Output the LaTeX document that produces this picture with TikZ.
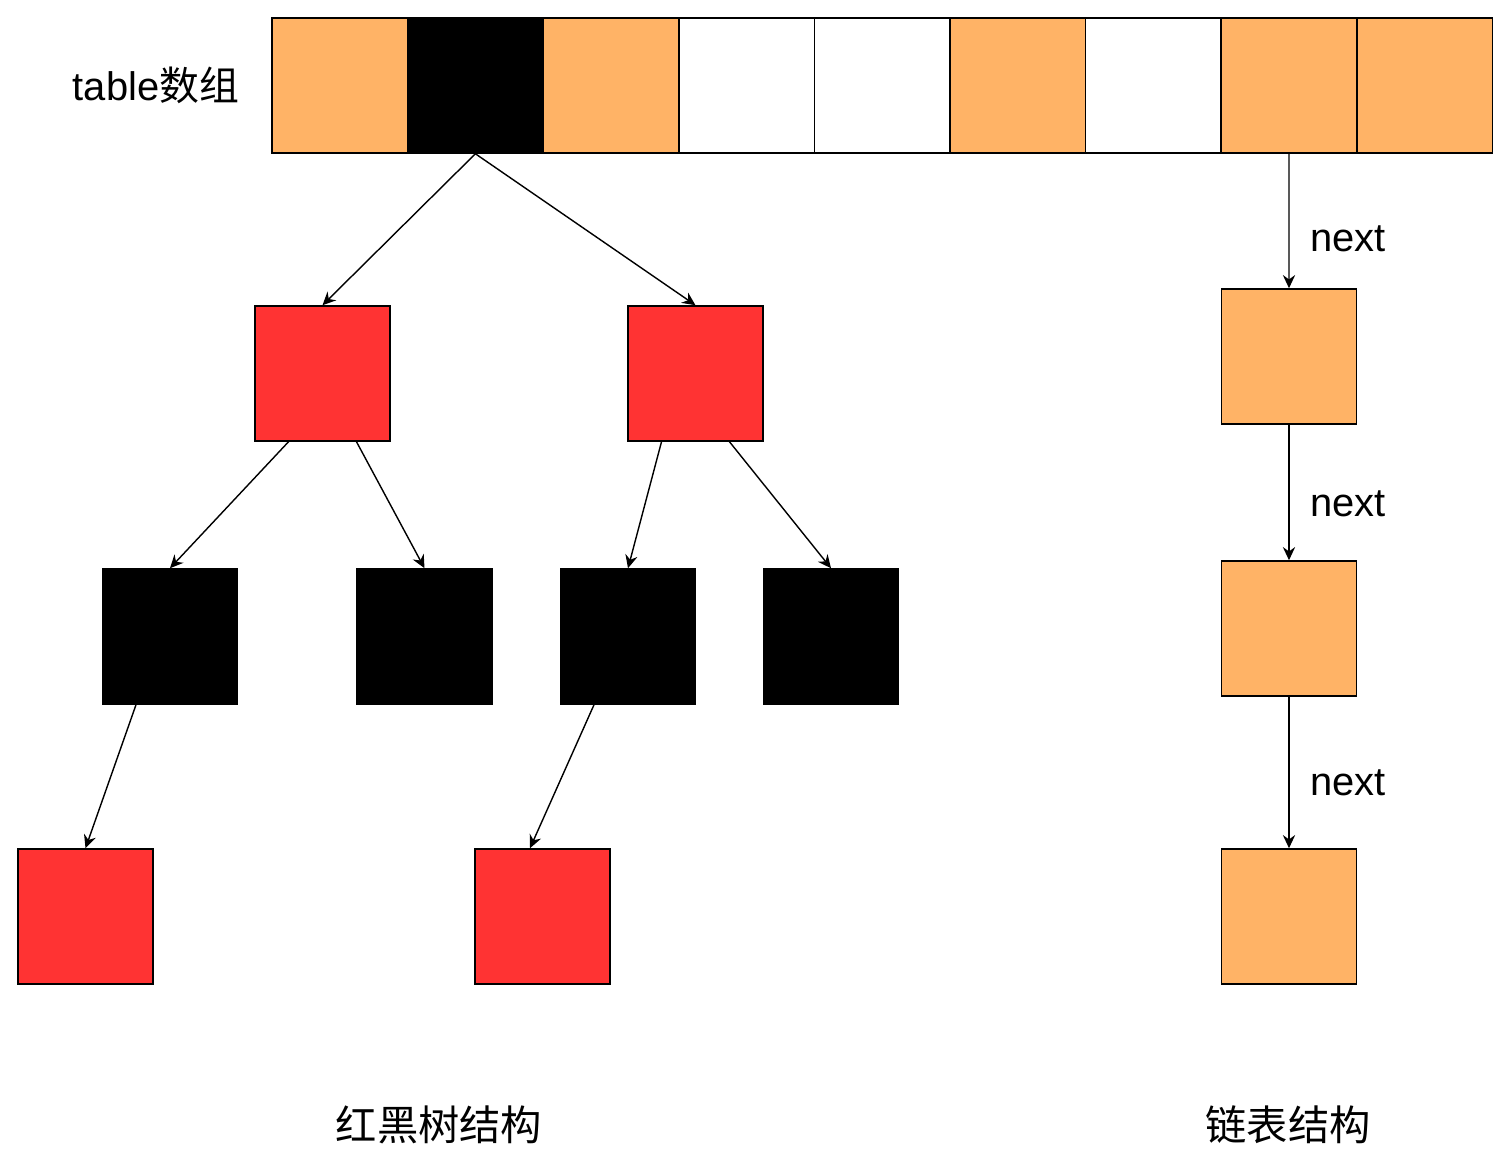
\documentclass[tikz,border=0pt]{standalone}
\usepackage{fontspec}
\setmainfont{Liberation Sans}
\newfontfamily\cjk{Noto Sans CJK SC}
\usetikzlibrary{arrows.meta,positioning}
\definecolor{cellorange}{HTML}{FFB366}
\definecolor{nodered}{HTML}{FF3333}

\tikzset{
  box/.style={draw=black, line width=0.9pt, minimum width=2.7cm, minimum height=2.7cm, inner sep=0pt},
  cell/.style={box, minimum width=2.712cm},
  redbox/.style={box, fill=nodered},
  blackbox/.style={box, fill=black},
  listbox/.style={box, fill=cellorange},
  link/.style={-{Stealth[length=7.5pt,width=7pt,inset=2.5pt]}, line width=0.8pt},
  nextlbl/.style={anchor=west, xshift=0.3cm},
  big/.style={font=\fontsize{22.7}{27}\selectfont},
  captext/.style={font=\fontsize{23.5}{28}\selectfont\cjk}
}

\begin{document}
\begin{tikzpicture}[x=0.02cm, y=-0.02cm]
\useasboundingbox (0,0) rectangle (1512,1165);

% table array
\foreach \i/\c in {1/cellorange,2/black,3/cellorange,4/white,5/white,6/cellorange,7/white,8/cellorange,9/cellorange}
  \node[cell, fill=\c] (c\i) at ({272+135.6*(\i-0.5)},85.5) {};
\node[big] (tbl) at (156,85) {table\cjk 数组};

% red-black tree
\node[redbox] (r1) at (322.5,373.5) {};
\node[redbox] (r2) at (695.5,373.5) {};
\node[blackbox] (b1) at (170,636.5) {};
\node[blackbox] (b2) at (424.5,636.5) {};
\node[blackbox] (b3) at (628,636.5) {};
\node[blackbox] (b4) at (831,636.5) {};
\node[redbox] (r3) at (85.5,916.5) {};
\node[redbox] (r4) at (542.5,916.5) {};

\draw[link] (c2.south) -- (r1.north);
\draw[link] (c2.south) -- (r2.north);
\draw[link] ([xshift=-0.68cm]r1.south) -- (b1.north);
\draw[link] ([xshift=0.68cm]r1.south) -- (b2.north);
\draw[link] ([xshift=-0.68cm]r2.south) -- (b3.north);
\draw[link] ([xshift=0.68cm]r2.south) -- (b4.north);
\draw[link] ([xshift=-0.68cm]b1.south) -- (r3.north);
\draw[link] ([xshift=-0.68cm]b3.south) -- ([xshift=-0.25cm]r4.north);

% linked list
\node[listbox] (l1) at (1289,356.5) {};
\node[listbox] (l2) at (1289,628.5) {};
\node[listbox] (l3) at (1289,916.5) {};

\draw[link] (c8.south) -- node[nextlbl, big, pos=0.63] {next} (l1.north);
\draw[link] (l1.south) -- node[nextlbl, big, pos=0.58] {next} (l2.north);
\draw[link] (l2.south) -- node[nextlbl, big, pos=0.57] {next} (l3.north);

% captions
\node[captext] (treecap) at (439,1125) {红黑树结构};
\node[captext] (listcap) at (1288,1125) {链表结构};
\end{tikzpicture}
\end{document}
